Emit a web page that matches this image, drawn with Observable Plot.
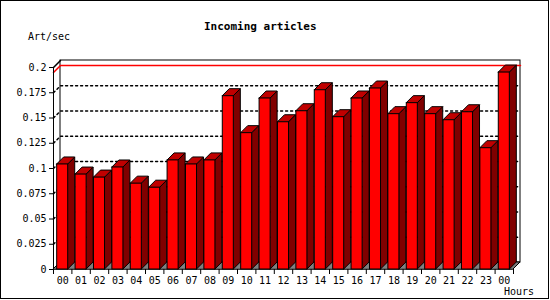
<!DOCTYPE html>
<html>
<head>
<meta charset="utf-8">
<script src="https://cdn.jsdelivr.net/npm/d3@7"></script>
<script src="https://cdn.jsdelivr.net/npm/@observablehq/plot@0.6"></script>
<style>
  html, body { margin: 0; padding: 0; background: #fff; }
  #wrap { position: relative; width: 550px; height: 300px; overflow: hidden; background: #fff; }
  #border { position: absolute; left: 0; top: 0; width: 547px; height: 297px; border: 1px solid #000; }
  .t { position: absolute; font-family: "DejaVu Sans Mono", monospace; font-size: 10px; color: #000; white-space: nowrap; line-height: 12px; }
  #title { font-weight: bold; font-size: 11px; left: 204px; top: 21px; }
  #ylab { left: 28px; top: 31px; }
  #xlab { left: 504px; top: 286px; }
  #chart { position: absolute; left: 0; top: 0; }
</style>
</head>
<body>
<div id="wrap">
  <div id="chart"></div>
  <div id="border"></div>
  <div class="t" id="title">Incoming articles</div>
  <div class="t" id="ylab">Art/sec</div>
  <div class="t" id="xlab">Hours</div>
</div>
<script>
const hours = ["00","01","02","03","04","05","06","07","08","09","10","11","12","13","14","15","16","17","18","19","20","21","22","23","00"];
const rates = [0.104, 0.094, 0.091, 0.101, 0.085, 0.081, 0.108, 0.104, 0.108, 0.1716, 0.135, 0.1693, 0.1458, 0.1567, 0.1775, 0.1508, 0.1693, 0.1792, 0.1538, 0.1647, 0.1538, 0.1478, 0.1557, 0.1201, 0.195];
const yTicks = [0, 0.025, 0.05, 0.075, 0.1, 0.125, 0.15, 0.175, 0.2];
const yMax = 0.2;

const W = 550, H = 300, mL = 53, mR = 37, mT = 67, mB = 31;
const n = hours.length;
const DX = 7 / ((W - mL - mR) / n);
const DY = 7 / ((H - mT - mB) / yMax);

const bars = hours.map((h, i) => ({i, h, v: rates[i]}));
const sides = bars.flatMap(b => [
  {i: b.i, x: b.i + 0.8, y1: 0, y2: b.v},
  {i: b.i, x: b.i + 0.8 + DX, y1: DY, y2: b.v + DY}
]);
const tops = bars.flatMap(b => [
  {i: b.i, y: b.v, x1: b.i + 0.2, x2: b.i + 0.8},
  {i: b.i, y: b.v + DY, x1: b.i + 0.2 + DX, x2: b.i + 0.8 + DX}
]);
const gridVals = yTicks.filter(v => v > 0 && v < yMax);
const gridPts = gridVals.flatMap(v => [
  {v, x: 0, y: v}, {v, x: DX, y: v + DY}, {v, x: n + DX, y: v + DY}
]);
const maxV = d3.max(rates);
const maxPts = [{x: 0, y: maxV}, {x: DX, y: maxV + DY}, {x: n + DX, y: maxV + DY}];
const floor = [{y: 0, a: 0, b: n}, {y: DY, a: DX, b: n + DX}];

const chart = Plot.plot({
  width: W, height: H,
  marginLeft: mL, marginRight: mR, marginTop: mT, marginBottom: mB,
  style: {fontFamily: "DejaVu Sans Mono, monospace", fontSize: "10px", background: "transparent", color: "#000", overflow: "visible"},
  x: {type: "linear", domain: [0, n], ticks: d3.range(n + 1), tickFormat: () => "", tickSize: 5, label: null},
  y: {domain: [0, yMax], ticks: yTicks, tickFormat: d => String(+d.toFixed(3)), tickSize: 4, tickPadding: 3, label: null},
  marks: [
    Plot.rect([0], {x1: DX, x2: n + DX, y1: DY, y2: yMax + DY, fill: "white", stroke: "black"}),
    Plot.area(floor, {x1: "a", x2: "b", y1: "y", fill: "#808080", stroke: "black"}),
    Plot.line(gridPts, {x: "x", y: "y", z: "v", stroke: "black", strokeDasharray: "2,3"}),
    Plot.line(maxPts, {x: "x", y: "y", stroke: "red"}),
    Plot.line([{x: 0, y: yMax}, {x: DX, y: yMax + DY}], {x: "x", y: "y", stroke: "black"}),
    Plot.ruleX([0], {y1: 0, y2: yMax, stroke: "black"}),
    Plot.area(sides, {x1: "x", y1: "y1", y2: "y2", z: "i", fill: "#800000", stroke: "black"}),
    Plot.area(tops, {x1: "x1", x2: "x2", y1: "y", z: "i", fill: "#c00000", stroke: "black"}),
    Plot.rect(bars, {x1: d => d.i + 0.2, x2: d => d.i + 0.8, y1: 0, y2: "v", fill: "#ff0000", stroke: "black"}),
    Plot.text(bars, {x: d => d.i + 0.5, y: () => 0, dy: 11, text: "h", fill: "black"})
  ]
});
document.getElementById("chart").appendChild(chart);
</script>
</body>
</html>
